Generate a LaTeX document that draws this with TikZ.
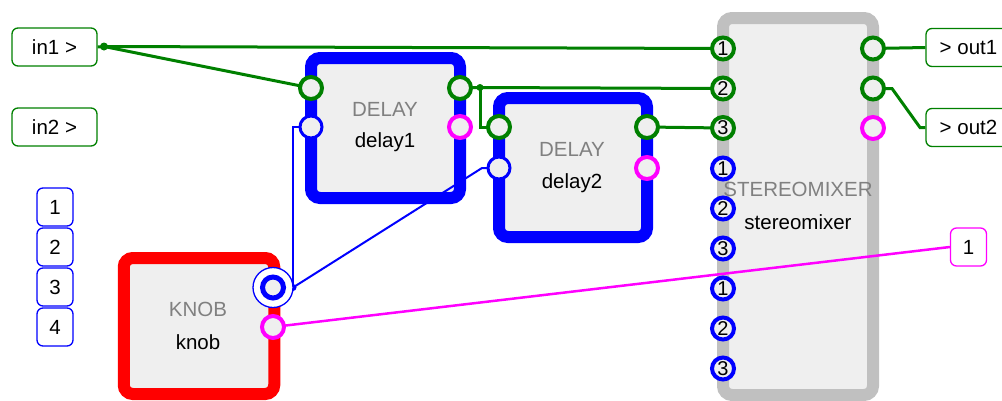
\documentclass[tikz,border=0pt]{standalone}
\usepackage{fontspec}
\setmainfont{Liberation Sans}
\definecolor{cgreen}{RGB}{0,128,0}
\definecolor{cblue}{RGB}{0,0,255}
\definecolor{cmag}{RGB}{255,0,255}
\definecolor{cred}{RGB}{255,0,0}
\definecolor{cgrayb}{RGB}{192,192,192}
\definecolor{cfill}{RGB}{239,239,239}
\definecolor{ctype}{RGB}{128,128,128}
\pgfdeclarelayer{blocks}
\pgfdeclarelayer{wires}
\pgfsetlayers{blocks,wires,main}
\begin{document}
\begin{tikzpicture}[x=1pt,y=-1pt,
  txt/.style={font=\fontsize{20.5}{24}\selectfont, inner sep=0pt},
  typelbl/.style={txt, text=ctype},
  namelbl/.style={txt, text=black},
  block/.style={draw=#1, line width=12pt, fill=cfill, rounded corners=9pt, inner sep=0pt},
  port/.style={circle, draw=#1, line width=4pt, fill=cfill, minimum size=22pt, inner sep=0pt},
  thinport/.style={port=#1, line width=3pt},
  numport/.style={port=#1, font=\fontsize{20}{20}\selectfont},
  iobox/.style={draw=#1, rounded corners=6pt, line width=1.3pt, fill=white, minimum width=85pt, minimum height=38pt, inner sep=0pt, txt},
  numbox/.style={draw=cblue, rounded corners=6pt, line width=1.3pt, fill=white, minimum width=36pt, minimum height=38pt, inner sep=0pt, txt},
  gwire/.style={draw=cgreen, line width=3pt},
  bwire/.style={draw=cblue, line width=2pt},
  mwire/.style={draw=cmag, line width=2.5pt},
  gdot/.style={fill=cgreen, circle, inner sep=0pt, minimum size=8pt},
  bdot/.style={fill=cblue, circle, inner sep=0pt, minimum size=7pt}
]
\useasboundingbox (0,0) rectangle (1002,400);

% ---- blocks ----
\begin{pgfonlayer}{blocks}
\node[block=cblue, minimum width=149pt, minimum height=140pt] (delay1) at (385.5,128) {};
\node[typelbl] (delay1t) at (385,109) {DELAY};
\node[namelbl] (delay1n) at (385,142) {delay1};
\node[block=cblue, minimum width=148pt, minimum height=139pt] (delay2) at (573,167.5) {};
\node[typelbl] (delay2t) at (572,149) {DELAY};
\node[namelbl] (delay2n) at (572,183) {delay2};
\node[block=cred, minimum width=150.5pt, minimum height=136pt] (knob) at (199,326) {};
\node[typelbl] (knobt) at (198,309) {KNOB};
\node[namelbl] (knobn) at (198,342) {knob};
\node[block=cgrayb, minimum width=150pt, minimum height=377pt] (sm) at (798,206.5) {};
\node[typelbl] (smt) at (798,189) {STEREOMIXER};
\node[namelbl] (smn) at (798,222) {stereomixer};
\end{pgfonlayer}

% ---- io boxes ----
\node[iobox=cgreen] (in1) at (54.5,47) {in1 >};
\node[iobox=cgreen] (in2) at (54.5,127) {in2 >};
\node[iobox=cgreen] (out1) at (968.5,47.5) {> out1};
\node[iobox=cgreen] (out2) at (968.5,127.5) {> out2};
\node[numbox, draw=cmag] (m1) at (968.5,247) {1};
\node[numbox] (n1) at (55,207) {1};
\node[numbox] (n2) at (55,247) {2};
\node[numbox] (n3) at (55,287) {3};
\node[numbox] (n4) at (55,327) {4};

% ---- ports ----
\node[port=cgreen] (d1i1) at (311,88) {};
\node[thinport=cblue] (d1i2) at (311,127) {};
\node[port=cgreen] (d1o1) at (460,88) {};
\node[port=cmag] (d1o2) at (460,127) {};
\node[port=cgreen] (d2i1) at (499,127) {};
\node[thinport=cblue] (d2i2) at (499,168) {};
\node[port=cgreen] (d2o1) at (647,127) {};
\node[port=cmag] (d2o2) at (647,168) {};
\node[circle, draw=cblue, line width=1.3pt, fill=white, minimum size=40pt, inner sep=0pt] (kring) at (273,287.5) {};
\node[port=cblue, line width=5pt, minimum size=21pt] (kno1) at (273,287.5) {};
\node[port=cmag] (kno2) at (273,327) {};
\node[numport=cgreen] (smi1) at (723,48.5) {1};
\node[numport=cgreen] (smi2) at (723,88.5) {2};
\node[numport=cgreen] (smi3) at (723,128) {3};
\node[numport=cblue] (smi4) at (723,168.5) {1};
\node[numport=cblue] (smi5) at (723,208.5) {2};
\node[numport=cblue] (smi6) at (723,248.5) {3};
\node[numport=cblue] (smi7) at (723,288.5) {1};
\node[numport=cblue] (smi8) at (723,328.5) {2};
\node[numport=cblue] (smi9) at (723,368.5) {3};
\node[port=cgreen] (smo1) at (873,48.5) {};
\node[port=cgreen] (smo2) at (873,88.5) {};
\node[port=cmag] (smo3) at (873,128) {};

% ---- wires ----
\begin{pgfonlayer}{wires}
\coordinate (j1) at (104,46.5);
\coordinate (j2) at (480,87.5);
\coordinate (j3) at (293,287.5);
\coordinate (b1) at (482,168);
\coordinate (o2a) at (892,88.5);
\coordinate (o2b) at (920,127.5);
\draw[gwire] (in1.east) -- (j1) -- (smi1.center);
\draw[gwire] (j1) -- (d1i1.center);
\draw[gwire] (d1o1.center) -- (j2) -- (smi2.center);
\draw[gwire] (j2) |- (d2i1.center);
\draw[gwire] (d2o1.center) -- (smi3.center);
\draw[gwire] (smo1.center) -- (out1.west);
\draw[gwire] (smo2.center) -- (o2a) -- (o2b) -- (out2.west);
\draw[bwire] (kno1.center) -- (j3) |- (d1i2.center);
\draw[bwire] (j3) -- (b1) -- (d2i2.center);
\draw[mwire] (kno2.center) -- (m1.west);
\node[gdot] (j1d) at (j1) {};
\node[gdot, minimum size=7pt] (j2d) at (j2) {};
\node[bdot] (j3d) at (j3) {};
\end{pgfonlayer}
\end{tikzpicture}
\end{document}
